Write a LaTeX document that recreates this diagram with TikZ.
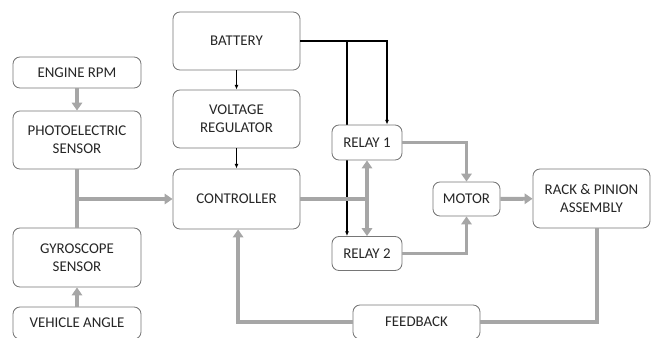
\documentclass[tikz,border=0pt]{standalone}
\usepackage{fontspec}
\setmainfont{Carlito}
\usetikzlibrary{arrows.meta,backgrounds}
\definecolor{steerGrey}{RGB}{166,166,166}
\definecolor{steerEdge}{RGB}{118,118,118}
\definecolor{steerInk}{RGB}{38,38,38}

\begin{document}
\begin{tikzpicture}[
    x=0.025cm,y=-0.025cm,
    block/.style={draw=steerEdge,fill=white,line width=0.6pt,rounded corners=5pt,inner sep=1pt,align=center,text=steerInk,font=\fontsize{10.6}{12.6}\selectfont},
    flow/.style={-{Triangle[length=0.2cm,width=0.26cm]},line width=2.8pt,draw=steerGrey},
    link/.style={line width=2.8pt,draw=steerGrey},
    wire/.style={-{Latex[length=1.2mm,width=1mm]},line width=0.8pt,draw=black}
  ]
    \useasboundingbox (0,0) rectangle (651,337);
    % sensing column
    \node[block,minimum width=3.2cm,minimum height=0.775cm] (engine) at (77,72.5) {ENGINE RPM};
    \node[block,minimum width=3.2cm,minimum height=1.45cm] (photo) at (77,140) {PHOTOELECTRIC\\SENSOR};
    \node[block,minimum width=3.2cm,minimum height=1.475cm] (gyro) at (77,257.5) {GYROSCOPE\\SENSOR};
    \node[block,minimum width=3.2cm,minimum height=0.8cm] (vehicle) at (77,323) {VEHICLE ANGLE};
    % supply and control
    \node[block,minimum width=3.175cm,minimum height=1.45cm] (battery) at (236.5,41) {BATTERY};
    \node[block,minimum width=3.175cm,minimum height=1.45cm] (voltage) at (236.5,119) {VOLTAGE\\REGULATOR};
    \node[block,minimum width=3.175cm,minimum height=1.5cm] (controller) at (236.5,199) {CONTROLLER};
    % drive
    \node[block,minimum width=1.75cm,minimum height=0.875cm] (relay1) at (367,142.5) {RELAY 1};
    \node[block,minimum width=1.75cm,minimum height=0.85cm] (relay2) at (367,253.5) {RELAY 2};
    \node[block,minimum width=1.675cm,minimum height=0.85cm] (motor) at (466.5,199) {MOTOR};
    \node[block,minimum width=2.925cm,minimum height=1.475cm] (rack) at (591.5,198.5) {RACK \& PINION\\ASSEMBLY};
    \node[block,minimum width=3.175cm,minimum height=0.85cm] (feedback) at (416.5,322) {FEEDBACK};

    \draw[flow] (engine) -- (photo);
    \draw[flow] (vehicle) -- (gyro);
    \draw[link] (photo) -- (gyro);
    \coordinate (merge) at (photo.south |- controller.west);
    \draw[flow] (merge) -- (controller.west);

    \draw[wire] (battery) -- (voltage);
    \draw[wire] (voltage) -- (controller);
    \draw[wire] (battery.east) -| ([xshift=0.5cm]relay1.north);
    \coordinate (r2in) at ([xshift=-0.5cm]relay2.north);
    \begin{scope}[on background layer]
      \draw[wire] (battery.east -| r2in) -- (r2in);
    \end{scope}

    \draw[link] (controller.east) -- (controller.east -| relay1.south);
    \draw[flow,{Triangle[length=0.2cm,width=0.26cm]}-{Triangle[length=0.2cm,width=0.26cm]}] (relay1.south) -- (relay2.north);
    \draw[flow] (relay1.east) -| (motor.north);
    \draw[flow] (relay2.east) -| (motor.south);
    \draw[flow] (motor) -- (rack);

    \draw[link] ([xshift=0.14cm]rack.south) |- (feedback.east);
    \draw[flow] (feedback.west) -| ([xshift=0.04cm]controller.south);
  \end{tikzpicture}
\end{document}
